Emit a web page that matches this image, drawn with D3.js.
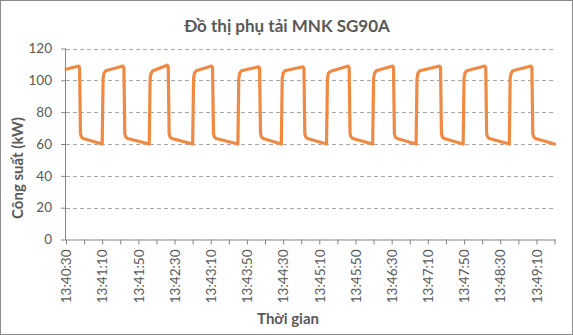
<!DOCTYPE html>
<html>
<head>
<meta charset="utf-8">
<script src="https://cdn.jsdelivr.net/npm/d3@7"></script>
<style>
  html, body { margin: 0; padding: 0; background: #fff; }
  svg { display: block; }
</style>
</head>
<body>
<svg id="chart" width="573" height="335"></svg>
<script>
// ---- Data ----
const chartTitle = "Đồ thị phụ tải MNK SG90A";
const yTitle = "Công suất (kW)";
const xTitle = "Thời gian";
const startTime = "13:40:30";
// seconds elapsed since 13:40:30
const seconds = [
  0, 14, 15, 16, 17, 19,
  40, 41, 42, 44, 63, 64, 65, 66, 68,
  92, 93, 94, 96, 112, 113, 114, 115, 117,
  140, 141, 142, 144, 161, 162, 163, 164, 166,
  190, 191, 192, 194, 213, 214, 215, 216, 218,
  238, 239, 240, 242, 262, 263, 264, 265, 267,
  288, 289, 290, 292, 312, 313, 314, 315, 317,
  339, 340, 341, 343, 361, 362, 363, 364, 366,
  387, 388, 389, 391, 413, 414, 415, 416, 418,
  439, 440, 441, 443, 463, 464, 465, 466, 468,
  490, 491, 492, 494, 514, 515, 516, 517, 519,
  540
];
// power in kW
const power = [
  107, 109, 108, 66.5, 64.5, 63.5,
  60, 101, 104.5, 106, 109, 108, 66.5, 64.5, 63.5,
  60, 101, 104.5, 106, 109.5, 108.5, 66.5, 64.5, 63.5,
  60, 101, 104.5, 106, 109, 108, 66.5, 64.5, 63.5,
  60, 101, 104.5, 106, 108.5, 107.5, 66.5, 64.5, 63.5,
  60, 101, 104.5, 106, 108.5, 107.5, 66.5, 64.5, 63.5,
  60, 101, 104.5, 105.5, 109, 108, 66.5, 64.5, 63.5,
  60, 101, 104.5, 106, 109, 108, 66.5, 64.5, 63.5,
  60, 101, 104.5, 106, 109, 108, 66.5, 64.5, 63.5,
  60, 101, 104.5, 106, 109, 108, 66.5, 64.5, 63.5,
  60, 101, 104.5, 106, 109, 108, 66.5, 64.5, 63.5,
  60
];
const xTickLabels = [
  "13:40:30", "13:41:10", "13:41:50", "13:42:30", "13:43:10",
  "13:43:50", "13:44:30", "13:45:10", "13:45:50", "13:46:30",
  "13:47:10", "13:47:50", "13:48:30", "13:49:10"
];
const yTicks = [0, 20, 40, 60, 80, 100, 120];
const tickStepSec = 20;   // minor tick spacing on the time axis
const labelStepSec = 40;  // label spacing on the time axis
const totalSec = 540;

// ---- Layout ----
const W = 573, H = 335;
const plot = { left: 66, right: 554.5, top: 48.5, bottom: 239.5 };
const textColor = "#595959";
const axisColor = "#868686";
const gridColor = "#a6a6a6";
const lineColor = "#EF8A45";
const font = "Lato, 'Open Sans', sans-serif";

const svg = d3.select("#chart");

svg.append("rect")
  .attr("x", 0.5).attr("y", 0.5)
  .attr("width", W - 1).attr("height", H - 1)
  .attr("fill", "#fff")
  .attr("stroke", "#8c8c8c").attr("stroke-width", 1);

const x = d3.scaleLinear().domain([0, totalSec]).range([plot.left, plot.right]);
const y = d3.scaleLinear().domain([0, 120]).range([plot.bottom, plot.top]);

// gridlines
svg.append("g")
  .selectAll("line")
  .data(yTicks.filter(v => v > 0))
  .join("line")
  .attr("x1", plot.left).attr("x2", plot.right + 1)
  .attr("y1", d => Math.round(y(d)) + 0.5).attr("y2", d => Math.round(y(d)) + 0.5)
  .attr("stroke", gridColor)
  .attr("stroke-width", 1)
  .attr("stroke-dasharray", "4,3");

// y axis
const yAxis = d3.axisLeft(y).tickValues(yTicks).tickSize(5).tickPadding(9);
const gy = svg.append("g")
  .attr("transform", `translate(${plot.left},0)`)
  .call(yAxis);
gy.select(".domain").attr("stroke", axisColor).attr("d", `M-0.5,${plot.top}V${plot.bottom}`);
gy.selectAll(".tick line").attr("stroke", axisColor);
gy.selectAll(".tick text")
  .attr("fill", textColor)
  .style("font-family", font)
  .style("font-size", "13.5px");

// x axis
const xAxis = d3.axisBottom(x)
  .tickValues(d3.range(0, totalSec + 1, tickStepSec))
  .tickSize(5)
  .tickFormat(d => (d % labelStepSec === 0 && xTickLabels[d / labelStepSec]) ? xTickLabels[d / labelStepSec] : "");
const gx = svg.append("g")
  .attr("transform", `translate(0,${plot.bottom})`)
  .call(xAxis);
gx.select(".domain").attr("stroke", axisColor).attr("d", `M${plot.left},0.5H${plot.right + 1}`);
gx.selectAll(".tick line").attr("stroke", axisColor);
gx.selectAll(".tick text")
  .attr("fill", textColor)
  .style("font-family", font)
  .style("font-size", "13.5px")
  .attr("transform", "rotate(-90)")
  .attr("text-anchor", "end")
  .attr("x", -10)
  .attr("y", 0)
  .attr("dy", "0.35em");

// data line
const pts = seconds.map((s, i) => [s, power[i]]);
const line = d3.line().x(d => x(d[0])).y(d => y(d[1]));
svg.append("path")
  .datum(pts)
  .attr("d", line)
  .attr("fill", "none")
  .attr("stroke", lineColor)
  .attr("stroke-width", 3.2)
  .attr("stroke-linejoin", "round")
  .attr("stroke-linecap", "round");

// titles
svg.append("text")
  .attr("x", 287).attr("y", 32)
  .attr("text-anchor", "middle")
  .attr("fill", textColor)
  .style("font-family", font)
  .style("font-weight", "bold")
  .style("font-size", "17px")
  .text(chartTitle);

svg.append("text")
  .attr("transform", "translate(23,168) rotate(-90)")
  .attr("text-anchor", "middle")
  .attr("fill", textColor)
  .style("font-family", font)
  .style("font-weight", "bold")
  .style("font-size", "15px")
  .text(yTitle);

svg.append("text")
  .attr("x", 288).attr("y", 324)
  .attr("text-anchor", "middle")
  .attr("fill", textColor)
  .style("font-family", font)
  .style("font-weight", "bold")
  .style("font-size", "15px")
  .text(xTitle);
</script>
</body>
</html>
